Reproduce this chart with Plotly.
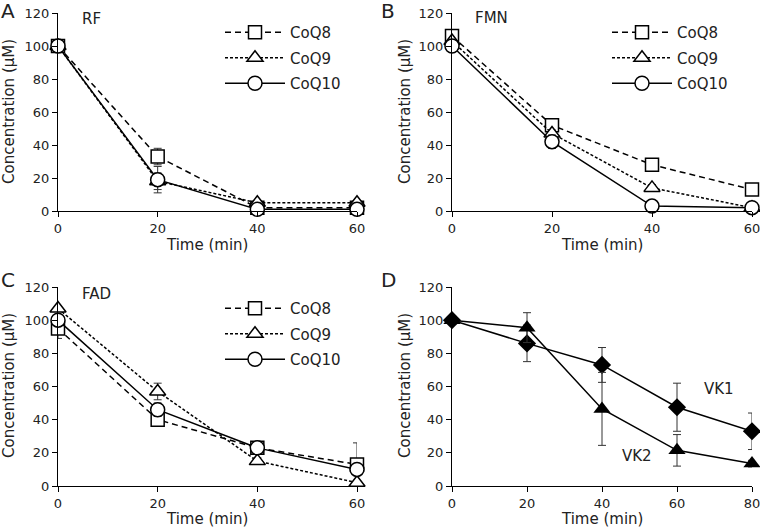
import plotly.graph_objects as go

# ---------------- data ----------------
time_60 = [0, 20, 40, 60]
time_80 = [0, 20, 40, 60, 80]
y_ticks = [0, 20, 40, 60, 80, 100, 120]

rf_coq8 = [100, 33, 2, 2]
rf_coq8_err = [0, 5, 1, 1]
rf_coq9 = [100, 18, 5, 5]
rf_coq9_err = [0, 5, 1, 1]
rf_coq10 = [100, 19, 1, 1]
rf_coq10_err = [0, 8, 0, 0]

fmn_coq8 = [106, 52, 28, 13]
fmn_coq8_err = [0, 2, 1, 1]
fmn_coq9 = [103, 47, 14, 2]
fmn_coq9_err = [0, 2, 2, 0]
fmn_coq10 = [100, 42, 3, 2]
fmn_coq10_err = [0, 4, 0, 0]

fad_coq8 = [95, 40, 23, 13]
fad_coq8_err = [6, 4, 3, 13]
fad_coq9 = [107, 57, 15, 2]
fad_coq9_err = [0, 5, 2, 0]
fad_coq10 = [100, 46, 23, 10]
fad_coq10_err = [0, 4, 3, 2]

vk1 = [100, 86, 73, 47.5, 33]
vk1_err = [0, 11, 10.5, 14.5, 11]
vk2 = [100, 95.5, 46.5, 21.5, 13.5]
vk2_err = [0, 9, 22, 9.5, 2]

series_names = ["CoQ8", "CoQ9", "CoQ10"]
x_title = "Time (min)"
y_title = "Concentration (μM)"

FONT = "DejaVu Sans"
fig = go.Figure()

styles = {
    "CoQ8": dict(dash="6px,4px", symbol="square", size=13),
    "CoQ9": dict(dash="3px,2px", symbol="triangle-up", size=14),
    "CoQ10": dict(dash="solid", symbol="circle", size=14),
}

panels = [
    ("A", "x", "y", "legend", [(rf_coq8, rf_coq8_err), (rf_coq9, rf_coq9_err), (rf_coq10, rf_coq10_err)]),
    ("B", "x2", "y2", "legend2", [(fmn_coq8, fmn_coq8_err), (fmn_coq9, fmn_coq9_err), (fmn_coq10, fmn_coq10_err)]),
    ("C", "x3", "y3", "legend3", [(fad_coq8, fad_coq8_err), (fad_coq9, fad_coq9_err), (fad_coq10, fad_coq10_err)]),
]

for pid, xa, ya, lg, data in panels:
    for name, (vals, errs) in zip(series_names, data):
        st = styles[name]
        fig.add_trace(go.Scatter(
            x=time_60, y=vals, name=name, mode="lines+markers",
            xaxis=xa, yaxis=ya, legend=lg, legendgroup=pid + name, cliponaxis=False,
            line=dict(color="black", width=1.5, dash=st["dash"]),
            marker=dict(symbol=st["symbol"], size=st["size"], color="white",
                        line=dict(color="black", width=1.5)),
            error_y=dict(type="data", array=errs, visible=True,
                         color="#333333", thickness=1, width=4),
        ))

for name, vals, errs, sym, size in [("VK1", vk1, vk1_err, "diamond", 14),
                                     ("VK2", vk2, vk2_err, "triangle-up", 15)]:
    fig.add_trace(go.Scatter(
        x=time_80, y=vals, name=name, mode="lines+markers",
        xaxis="x4", yaxis="y4", showlegend=False, cliponaxis=False,
        line=dict(color="black", width=1.5),
        marker=dict(symbol=sym, size=size, color="black"),
        error_y=dict(type="data", array=errs, visible=True,
                     color="#333333", thickness=1, width=4),
    ))

W, H = 760, 528
def px(v):
    return v / W
def py(v):
    return 1 - v / H

xdom_l = [px(58), px(357)]
xdom_r = [px(452), px(752)]
ydom_t = [py(211), py(13)]
ydom_b = [py(486), py(287)]

tickfont = dict(family=FONT, size=13, color="#222")
titlefont = dict(family=FONT, size=15, color="#222")

def xax(dom, anchor, rng, tv):
    return dict(domain=dom, anchor=anchor, range=rng, tickvals=tv,
                showline=True, linecolor="black", linewidth=1,
                ticks="outside", ticklen=5, tickcolor="black",
                showgrid=False, zeroline=False, tickfont=tickfont,
                ticklabeloverflow="allow",
                automargin=False, fixedrange=True)

def yax(dom, anchor):
    return dict(domain=dom, anchor=anchor, range=[0, 120], tickvals=y_ticks,
                showline=True, linecolor="black", linewidth=1,
                ticks="outside", ticklen=5, tickcolor="black",
                showgrid=False, zeroline=False, tickfont=tickfont,
                ticklabeloverflow="allow",
                automargin=False, fixedrange=True)

legfont = dict(family=FONT, size=15, color="#222")
def leg(x, y):
    return dict(x=x, y=y, xref="paper", yref="paper", xanchor="left", yanchor="top",
                bgcolor="rgba(0,0,0,0)", font=legfont, itemwidth=60,
                tracegroupgap=3)

fig.update_layout(
    template="none",
    width=W, height=H, autosize=False,
    margin=dict(l=0, r=0, t=0, b=0, pad=0),
    paper_bgcolor="white", plot_bgcolor="white",
    showlegend=True,
    xaxis=xax(xdom_l, "y", [0, 60], time_60),
    yaxis=yax(ydom_t, "x"),
    xaxis2=xax(xdom_r, "y2", [0, 60], time_60),
    yaxis2=yax(ydom_t, "x2"),
    xaxis3=xax(xdom_l, "y3", [0, 60], time_60),
    yaxis3=yax(ydom_b, "x3"),
    xaxis4=xax(xdom_r, "y4", [0, 80], time_80),
    yaxis4=yax(ydom_b, "x4"),
    legend=leg(px(220), py(16)),
    legend2=leg(px(607), py(16)),
    legend3=leg(px(220), py(292)),
)

def note(text, x, y, size=15, xanchor="center", angle=0):
    fig.add_annotation(text=text, x=px(x), y=py(y), xref="paper", yref="paper",
                       xanchor=xanchor, yanchor="middle", showarrow=False,
                       textangle=angle, font=dict(family=FONT, size=size, color="#222"))

for t, x, y in [("A", 8, 11), ("B", 388, 11), ("C", 8, 280), ("D", 388, 280)]:
    note(t, x, y, size=20)

for t, x, y in [("RF", 80, 19), ("FMN", 473, 18), ("FAD", 80, 294),
                ("VK1", 702, 389), ("VK2", 620, 456)]:
    note(t, x, y, xanchor="left")

# axis titles
for cx, cy, ty, yx in [(207, 112, 245, 9), (602, 112, 245, 405),
                       (207, 386, 519, 9), (602, 386, 519, 405)]:
    note(x_title, cx, ty)
    note(y_title, yx, cy, angle=-90)

fig.write_html("out.html", config={"displayModeBar": False},
               post_script="document.body.style.margin='0';")
